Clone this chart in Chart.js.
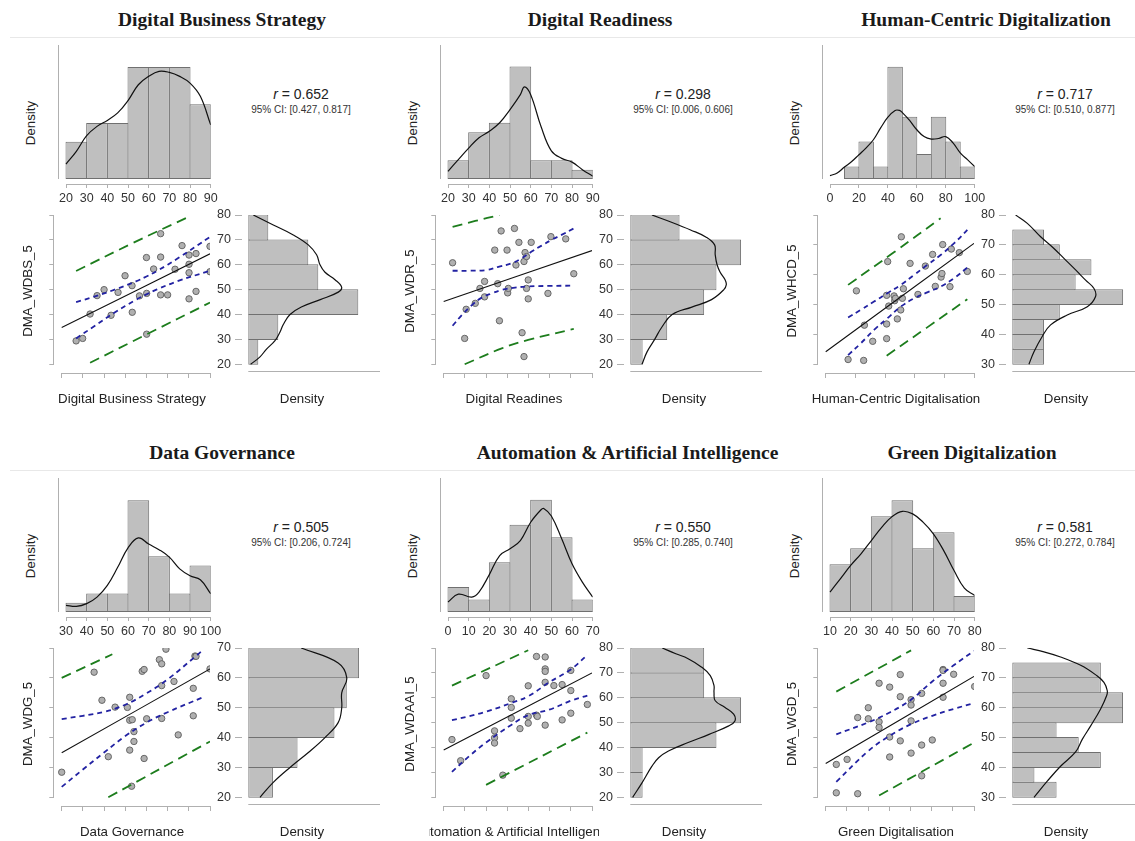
<!DOCTYPE html>
<html>
<head>
<meta charset="utf-8">
<title>Correlation plots</title>
<script src="https://cdn.jsdelivr.net/npm/chart.js@4.4.1/dist/chart.umd.min.js"></script>
<style>
html,body{margin:0;padding:0;background:#fff}
body{position:relative;width:1135px;height:841px;overflow:hidden;font-family:"Liberation Sans",Arial,sans-serif;color:#222}
canvas{position:absolute}
.t{position:absolute;white-space:nowrap;transform:translate(-50%,-50%)}
.title{font-family:"Liberation Serif","Times New Roman",serif;font-weight:bold;font-size:19.5px;color:#1a1a1a}
.lab{font-size:13.3px;color:#222}
.rot{transform:translate(-50%,-50%) rotate(-90deg)}
.r{font-size:14px;color:#222}
.ci{font-size:10px;color:#333}
.sep{position:absolute;height:1px;background:#e8e8e8}
.clip{position:absolute;overflow:hidden;height:20px}
.clip span{position:absolute;left:50%;top:50%;transform:translate(-50%,-50%);white-space:nowrap;font-size:13.3px;color:#222}
</style>
</head>
<body>
<script>
// panel grid origins
const colX = [0, 382, 764]
const rowY = [0, 433]

// ---------- Digital Business Strategy
const dbsTicksX = [20, 30, 40, 50, 60, 70, 80, 90]
const dbsTicksY = [20, 30, 40, 50, 60, 70, 80]
const dbsBinsX = [20, 30, 40, 50, 60, 70, 80, 90]
const dbsCountsX = [2, 3, 3, 6, 6, 6, 4]
const dbsDensX = [[20,0.8],[25,1.48],[30,2.32],[35,2.82],[40,3.14],[45,3.54],[50,4.2],[55,5.05],[60,5.5],[65,5.77],[70,5.71],[75,5.5],[80,5.14],[85,4.43],[90,2.9]]
const dbsPtsX = [26.8,29.9,33.4,36.7,40.0,43.3,46.6,49.9,53.2,53.3,56.7,60.0,60.1,60.1,63.4,66.7,66.7,66.7,70.0,73.5,76.8,80.1,80.1,80.1,80.1,83.4,83.4,90.0,90.0]
const dbsPtsY = [29.4,30.4,40.2,47.6,50.0,39.7,48.9,55.6,51.6,40.9,47.5,62.9,48.5,32.1,58.3,72.5,63.1,47.9,47.9,58.2,67.7,63.9,60.2,56.8,46.3,64.5,49.3,67.4,57.2]
const dbsFit = [[20,34.8],[90,64.4]]
const dbsCiUp = [[26.8,45.0],[35,47.1],[45,50.0],[55,53.3],[60,55.3],[65,57.5],[75,62.7],[90,71.2]]
const dbsCiLo = [[26.8,30.4],[35,35.1],[45,40.8],[55,45.9],[60,48.1],[65,50.1],[75,53.5],[90,57.6]]
const dbsPiUp = [[26.8,57.5],[53,68.5],[80.5,79.5]]
const dbsPiLo = [[33.4,20.6],[60,32.0],[90,44.8]]
const dbsBinsY = [20, 30, 40, 50, 60, 70, 80]
const dbsCountsY = [1, 3, 11, 7, 6, 2]
const dbsDensY = [[20,0.23],[23,1.17],[26,1.8],[29.5,2.67],[33,3.17],[36,3.5],[40,4.17],[43,5.3],[46,7.2],[49,9.0],[51,9.33],[54,8.67],[57,7.67],[60,7.17],[64,6.83],[68,6.0],[72,4.5],[76,2.5],[80,0.5]]

// ---------- Digital Readiness
const drTicksX = [20, 30, 40, 50, 60, 70, 80, 90]
const drTicksY = [20, 30, 40, 50, 60, 70, 80]
const drBinsX = [20, 30, 40, 50, 60, 70, 80, 90]
const drCountsX = [2, 5, 6, 12, 2, 2, 1]
const drDensX = [[20,0.82],[25,2.07],[30,3.3],[35,4.4],[40,5.1],[45,6.0],[50,7.4],[55,9.0],[57,9.84],[60,9.0],[65,5.6],[70,3.0],[75,2.2],[80,1.8],[85,1.0],[90,0.3]]
const drPtsX = [24.2,29.9,30.6,34.9,37.1,39.3,39.3,44.1,45.5,46.3,47.1,49.9,50.2,50.5,53.4,54.1,55.5,57.0,57.9,57.9,58.4,59.1,59.1,59.9,59.9,61.3,69.2,70.6,77.6,81.4]
const drPtsY = [60.8,30.4,42.1,44.5,50.5,47.1,53.3,65.9,52.4,37.5,73.6,65.9,48.7,50.5,74.6,59.9,69.0,32.7,61.3,23.1,64.9,63.3,50.5,53.9,46.3,69.0,48.5,71.3,70.4,56.4]
const drFit = [[20,45.2],[90,65.7]]
const drCiUp = [[24.2,57.6],[32,57.6],[40.4,57.9],[45.8,59.2],[52.1,60.6],[56.8,62.6],[61.5,65.3],[66.2,67.7],[70.9,70.0],[75.6,72.0],[81.4,74.6]]
const drCiLo = [[24.2,35.5],[28.6,39.8],[33.3,43.8],[38.0,46.8],[42.7,48.5],[47.4,49.9],[53.7,50.8],[59.9,51.3],[69.3,51.5],[81.4,51.6]]
const drPiUp = [[24.2,75.2],[34.9,77.6],[46.3,80.0]]
const drPiLo = [[29.9,20.0],[47.4,26.4],[59.9,29.8],[81.4,34.2]]
const drBinsY = [20, 30, 40, 50, 60, 70, 80]
const drCountsY = [1, 3, 6, 7, 9, 4]
const drDensY = [[20,0.95],[25,1.36],[30,1.98],[35,2.57],[40,3.4],[43,5.0],[46,6.6],[50,7.6],[52,7.8],[54,7.7],[57,7.3],[60,7.05],[64,6.9],[68,6.85],[71,6.2],[74,4.9],[77,3.4],[80,1.76]]

// ---------- Human-Centric Digitalization
const hcdTicksX = [0, 20, 40, 60, 80, 100]
const hcdTicksY = [30, 40, 50, 60, 70, 80]
const hcdBinsX = [0, 10, 20, 30, 40, 50, 60, 70, 80, 90, 100]
const hcdCountsX = [0, 1, 3, 1, 9, 5, 2, 5, 3, 1]
const hcdDensX = [[0,0.27],[5,0.48],[10,0.96],[15,1.4],[20,1.95],[25,2.5],[30,3.15],[35,4.1],[40,4.96],[45,5.5],[48,5.5],[50,5.33],[55,4.7],[60,3.95],[65,3.4],[70,3.2],[75,3.25],[80,3.4],[85,2.9],[90,2.1],[95,1.55],[100,1.0]]
const hcdPtsX = [15.1,20.7,25.6,26.1,31.7,41.1,41.1,41.1,41.8,42.5,46.1,46.5,47.0,48.3,50.6,51.0,51.7,52.4,56.9,62.2,67.2,72.1,73.9,77.8,78.4,78.9,83.8,84.7,90.1,95.5]
const hcdPtsY = [31.6,54.6,31.3,43.1,37.7,53.1,43.5,38.6,64.4,49.5,52.9,51.3,52.1,45.2,48.2,72.7,52.1,55.3,63.8,53.4,62.9,66.8,56.1,59.2,60.4,70.1,56.0,68.6,67.4,61.1]
const hcdFit = [[0,34.2],[100,70.5]]
const hcdCiUp = [[15.1,45.7],[23.6,48.2],[32.6,51.0],[41.6,53.8],[50.6,56.6],[59.6,59.9],[68.5,63.3],[77.5,66.6],[86.5,70.5],[95.5,75.0]]
const hcdCiLo = [[15.1,33.1],[23.6,37.0],[32.6,41.5],[41.6,45.4],[50.6,49.3],[59.6,52.1],[68.5,54.1],[77.5,56.0],[86.5,58.8],[95.5,62.4]]
const hcdPiUp = [[15.1,56.6],[46,67.5],[77.5,78.9]]
const hcdPiLo = [[41.1,32.9],[68,42.2],[95.5,51.8]]
const hcdBinsY = [30, 35, 40, 45, 50, 55, 60, 65, 70, 75, 80]
const hcdCountsY = [2, 2, 2, 3, 7, 4, 5, 3, 2, 0]
const hcdDensY = [[30,1.05],[34.2,1.37],[39.3,1.89],[43.2,2.42],[46.5,3.47],[49.3,4.74],[52.7,5.26],[55.4,5.16],[58.2,4.63],[61.6,4.0],[64.9,3.37],[68.8,2.63],[72.7,1.79],[77.2,0.95],[80,0.21]]

// ---------- Data Governance
const dgTicksX = [30, 40, 50, 60, 70, 80, 90, 100]
const dgTicksY = [20, 30, 40, 50, 60, 70]
const dgBinsX = [30, 40, 50, 60, 70, 80, 90, 100]
const dgCountsX = [1, 2, 2, 12, 6, 2, 5]
const dgDensX = [[30,0.71],[35,0.6],[40,0.9],[45,1.6],[50,2.86],[55,4.8],[60,6.9],[65,7.96],[70,7.3],[75,6.7],[80,5.9],[85,4.64],[90,3.9],[95,3.46],[100,1.96]]
const dgPtsX = [30.0,45.3,49.0,52.0,55.2,61.0,62.1,62.1,62.1,63.0,63.3,64.1,64.1,68.0,68.9,68.9,70.1,76.1,77.2,77.2,77.2,79.2,83.0,85.0,92.1,92.1,92.9,93.4,100]
const dgPtsY = [28.4,61.9,52.5,33.6,50.2,50.1,53.5,45.8,35.8,23.7,46.0,42.0,38.7,62.2,62.8,33.0,46.3,66.1,64.7,57.4,46.4,69.6,58.8,40.9,56.5,47.3,67.3,67.2,63.0]
const dgFit = [[30,34.9],[100,63.0]]
const dgCiUp = [[30,46.2],[40,47.3],[50,48.6],[60,51.0],[70,54.8],[80,59.5],[93.7,67.5],[97,69.5]]
const dgCiLo = [[30,23.5],[40,29.3],[50,35.0],[60,40.5],[70,45.0],[80,48.5],[97,53.6]]
const dgPiUp = [[30,60.0],[53.9,67.9]]
const dgPiLo = [[52.0,20.0],[100,38.7]]
const dgBinsY = [20, 30, 40, 50, 60, 70]
const dgCountsY = [2, 4, 7, 8, 9]
const dgDensY = [[20,0.95],[25,2.03],[30,3.39],[35,4.88],[40,6.23],[45,7.3],[50,7.59],[55,7.59],[60,8.0],[65,7.3],[70,4.3]]

// ---------- Automation & Artificial Intelligence
const aaiTicksX = [0, 10, 20, 30, 40, 50, 60, 70]
const aaiTicksY = [20, 30, 40, 50, 60, 70, 80]
const aaiBinsX = [0, 10, 20, 30, 40, 50, 60, 70]
const aaiCountsX = [2, 1, 4, 7, 9, 6, 1]
const aaiDensX = [[0,0.8],[5,1.43],[11.5,1.2],[15,1.6],[20,3.0],[25,4.53],[30,5.07],[35,5.73],[40,7.2],[45,8.2],[46.3,8.3],[50,7.7],[55,5.87],[60,3.87],[65,2.4],[70,1.2]]
const aaiPtsX = [3.9,8.0,20.0,24.0,24.0,24.0,27.9,31.9,31.9,31.9,36.0,39.9,39.9,39.9,43.8,43.8,44.2,47.9,47.9,47.9,47.9,47.9,52.0,55.9,55.9,60.0,60.0,60.0,67.8]
const aaiPtsY = [43.2,34.7,68.9,46.7,43.9,41.8,28.9,59.6,56.1,51.8,47.6,64.8,52.5,49.8,76.6,53.0,52.5,76.4,71.6,70.6,66.2,49.0,64.9,65.3,51.1,71.0,62.9,53.8,57.3]
const aaiFit = [[0,39.0],[70,70.0]]
const aaiCiUp = [[3.9,51.0],[12,52.6],[20,54.4],[31.9,57.9],[39.9,60.6],[49.8,66.2],[60,71.4],[67.8,77.2]]
const aaiCiLo = [[3.9,30.2],[12,36.5],[20,42.0],[31.9,49.1],[39.9,53.0],[49.8,55.2],[60,58.8],[67.8,60.9]]
const aaiPiUp = [[3.9,64.9],[39.9,79.1]]
const aaiPiLo = [[20,25.0],[67.8,46.0]]
const aaiBinsY = [20, 30, 40, 50, 60, 70, 80]
const aaiCountsY = [1, 1, 7, 9, 6, 6]
const aaiDensY = [[20,0.19],[25.8,0.95],[32.5,1.76],[35.9,2.3],[38.6,3.1],[42,4.7],[45.3,6.4],[48.7,8.0],[50.7,8.5],[53.4,8.4],[56.1,7.7],[58.8,6.9],[62.2,6.8],[64.9,6.8],[68.9,6.5],[72.3,5.8],[75.7,4.7],[77.7,3.7],[80,2.6]]

// ---------- Green Digitalization
const gdTicksX = [10, 20, 30, 40, 50, 60, 70, 80]
const gdTicksY = [30, 40, 50, 60, 70, 80]
const gdBinsX = [10, 20, 30, 40, 50, 60, 70, 80]
const gdCountsX = [3, 4, 6, 7, 4, 5, 1]
const gdDensX = [[10,1.25],[15,2.08],[20,2.92],[25,3.65],[30,4.48],[35,5.31],[40,5.98],[45,6.31],[50,6.15],[55,5.63],[60,4.9],[65,3.85],[70,2.6],[75,1.5],[80,1.04]]
const gdPtsX = [15.0,15.0,20.1,25.1,25.1,30.1,30.1,35.2,35.2,35.2,40.2,40.2,40.2,45.2,45.2,45.2,50.3,50.3,50.3,50.3,55.3,55.3,55.3,60.3,65.4,65.4,65.4,65.4,70.4,80.3]
const gdPtsY = [41.0,31.5,42.7,56.7,31.2,60.0,56.3,68.2,55.3,53.4,66.9,50.2,43.5,71.1,63.7,48.9,62.7,60.9,55.6,44.8,64.8,47.5,37.2,49.2,72.8,72.5,68.2,63.5,71.2,67.1]
const gdFit = [[10,41.3],[80,70.5]]
const gdCiUp = [[15,51.1],[30.1,55.1],[40.2,58.4],[50.3,62.7],[60.3,68.8],[70.4,74.2],[80,79.0]]
const gdCiLo = [[15,35.2],[30.1,45.5],[40.2,50.6],[50.3,54.5],[60.3,57.3],[70.4,59.6],[80,61.5]]
const gdPiUp = [[15,65.4],[50.3,79.2]]
const gdPiLo = [[35.2,30.6],[80,48.3]]
const gdBinsY = [30, 35, 40, 45, 50, 55, 60, 65, 70, 75, 80]
const gdCountsY = [2, 1, 4, 3, 2, 5, 5, 4, 4, 0]
const gdDensY = [[30,0.98],[35.4,1.58],[40.4,2.18],[45.2,2.86],[49.4,3.16],[53.9,3.54],[59.6,3.99],[64,4.26],[65.7,4.29],[68.5,4.14],[71,3.77],[74.2,3.09],[77,2.18],[78.7,1.43],[80,0.68]]


const panels = [
  {col:0, row:0, title:'Digital Business Strategy', titleX:222, xLab:'Digital Business Strategy', yLab:'DMA_WDBS_5', r:'0.652', ci:'[0.427, 0.817]',
   ticksX:dbsTicksX, ticksY:dbsTicksY, binsX:dbsBinsX, countsX:dbsCountsX, densX:dbsDensX, ptsX:dbsPtsX, ptsY:dbsPtsY, fit:dbsFit,
   ciUp:dbsCiUp, ciLo:dbsCiLo, piUp:dbsPiUp, piLo:dbsPiLo, binsY:dbsBinsY, countsY:dbsCountsY, densY:dbsDensY, topMax:7.18, sideMax:13.17},
  {col:1, row:0, title:'Digital Readiness', titleX:600, xLab:'Digital Readines', yLab:'DMA_WDR_5', r:'0.298', ci:'[0.006, 0.606]',
   ticksX:drTicksX, ticksY:drTicksY, binsX:drBinsX, countsX:drCountsX, densX:drDensX, ptsX:drPtsX, ptsY:drPtsY, fit:drFit,
   ciUp:drCiUp, ciLo:drCiLo, piUp:drPiUp, piLo:drPiLo, binsY:drBinsY, countsY:drCountsY, densY:drDensY, topMax:14.3, sideMax:10.7},
  {col:2, row:0, title:'Human-Centric Digitalization', titleX:986, xLab:'Human-Centric Digitalisation', yLab:'DMA_WHCD_5', r:'0.717', ci:'[0.510, 0.877]',
   ticksX:hcdTicksX, ticksY:hcdTicksY, binsX:hcdBinsX, countsX:hcdCountsX, densX:hcdDensX, ptsX:hcdPtsX, ptsY:hcdPtsY, fit:hcdFit,
   ciUp:hcdCiUp, ciLo:hcdCiLo, piUp:hcdPiUp, piLo:hcdPiLo, binsY:hcdBinsY, countsY:hcdCountsY, densY:hcdDensY, topMax:10.75, sideMax:8.32},
  {col:0, row:1, title:'Data Governance', titleX:222, xLab:'Data Governance', yLab:'DMA_WDG_5', r:'0.505', ci:'[0.206, 0.724]',
   ticksX:dgTicksX, ticksY:dgTicksY, binsX:dgBinsX, countsX:dgCountsX, densX:dgDensX, ptsX:dgPtsX, ptsY:dgPtsY, fit:dgFit,
   ciUp:dgCiUp, ciLo:dgCiLo, piUp:dgPiUp, piLo:dgPiLo, binsY:dgBinsY, countsY:dgCountsY, densY:dgDensY, topMax:14.4, sideMax:10.7},
  {col:1, row:1, title:'Automation &amp; Artificial Intelligence', titleX:627.5, xLab:'Automation &amp; Artificial Intelligence', yLab:'DMA_WDAAI_5', r:'0.550', ci:'[0.285, 0.740]',
   ticksX:aaiTicksX, ticksY:aaiTicksY, binsX:aaiBinsX, countsX:aaiCountsX, densX:aaiDensX, ptsX:aaiPtsX, ptsY:aaiPtsY, fit:aaiFit,
   ciUp:aaiCiUp, ciLo:aaiCiLo, piUp:aaiPiUp, piLo:aaiPiLo, binsY:aaiBinsY, countsY:aaiCountsY, densY:aaiDensY, topMax:10.75, sideMax:10.7},
  {col:2, row:1, title:'Green Digitalization', titleX:972, xLab:'Green Digitalisation', yLab:'DMA_WGD_5', r:'0.581', ci:'[0.272, 0.784]',
   ticksX:gdTicksX, ticksY:gdTicksY, binsX:gdBinsX, countsX:gdCountsX, densX:gdDensX, ptsX:gdPtsX, ptsY:gdPtsY, fit:gdFit,
   ciUp:gdCiUp, ciLo:gdCiLo, piUp:gdPiUp, piLo:gdPiLo, binsY:gdBinsY, countsY:gdCountsY, densY:gdDensY, topMax:8.4, sideMax:5.95}
]

Chart.defaults.font.family = "'Liberation Sans', Arial, sans-serif"
Chart.defaults.color = '#333'

const AXIS = '#b0b0b0'
const BAR = '#bfbfbf'
const BAR_EDGE = '#707070'
const BLUE = '#2222a2'
const GREEN = '#1d7d1d'

// JASP style axis line, only between first and last tick
const axisLines = {
  id: 'axisLines',
  afterDraw(chart, args, opts) {
    const {ctx, chartArea, scales} = chart
    ctx.save()
    ctx.strokeStyle = AXIS
    ctx.lineWidth = 1
    if (opts.x) {
      const y = Math.round(chartArea.bottom) + 0.5
      ctx.beginPath()
      ctx.moveTo(scales.x.getPixelForValue(opts.x[0]), y)
      ctx.lineTo(scales.x.getPixelForValue(opts.x[1]), y)
      ctx.stroke()
    }
    if (opts.y) {
      const x = Math.round(chartArea.left) - 0.5
      ctx.beginPath()
      ctx.moveTo(x, scales.y.getPixelForValue(opts.y[0]))
      ctx.lineTo(x, scales.y.getPixelForValue(opts.y[1]))
      ctx.stroke()
    }
    ctx.restore()
  }
}
Chart.register(axisLines)

function canvasAt(x, y, w, h){
  let c = document.createElement('canvas')
  c.width = w
  c.height = h
  c.style.left = x + 'px'
  c.style.top = y + 'px'
  c.style.width = w + 'px'
  c.style.height = h + 'px'
  document.body.appendChild(c)
  return c
}

function text(cls, html, x, y){
  let d = document.createElement('div')
  d.className = 't ' + cls
  d.innerHTML = html
  d.style.left = x + 'px'
  d.style.top = y + 'px'
  document.body.appendChild(d)
}

function fixSize(px){
  return s => {
    if (s.isHorizontal()) s.height = px
    else s.width = px
    s.paddingLeft = s.paddingRight = s.paddingTop = s.paddingBottom = 0
  }
}

const useTicks = list => s => { s.ticks = list.map(v => ({value: v})) }

const base = {
  responsive: false,
  animation: false,
  devicePixelRatio: 1,
  events: []
}

function fitLine(pairs, color, width, dash){
  return {type:'line', data:pairs.map(d => ({x:d[0], y:d[1]})), borderColor:color, borderWidth:width,
    borderDash:dash, pointRadius:0, tension:0.4, fill:false, order:0}
}

function drawPanel(p){
  const ox = colX[p.col], oy = rowY[p.row]
  const x0 = p.ticksX[0], x1 = p.ticksX[p.ticksX.length - 1]
  const y0 = p.ticksY[0], y1 = p.ticksY[p.ticksY.length - 1]

  // top histogram of x
  let nx = p.countsX.length
  new Chart(canvasAt(ox + 40, oy + 38, 192, 175), {
    type: 'bar',
    data: {datasets: [
      {type:'line', data:p.densX.map(d => ({x:d[0], y:d[1]})), borderColor:'#111', borderWidth:1.2, pointRadius:0, tension:0.4, order:0},
      {data:p.countsX.map((c, i) => ({x:(p.binsX[i] + p.binsX[i+1]) / 2, y:c})), backgroundColor:BAR, borderColor:BAR_EDGE,
       borderWidth:1, borderSkipped:false, categoryPercentage:1, barPercentage:1 + nx / 144.7, order:1}
    ]},
    options: {...base,
      layout: {padding: {top:7, right:21.3, left:0, bottom:0}},
      plugins: {legend:{display:false}, tooltip:{enabled:false}, axisLines:{x:[x0, x1], y:[0, p.topMax]}},
      scales: {
        x: {type:'linear', bounds:'data', offset:false, min:x0 - 6.7 * (x1 - x0) / 144.7, max:x1,
            afterBuildTicks:useTicks(p.ticksX), afterFit:fixSize(29), border:{display:false},
            grid:{offset:false, drawOnChartArea:false, tickLength:4, color:AXIS},
            ticks:{autoSkip:false, maxRotation:0, padding:3, font:{size:12.5}, color:'#333'}},
        y: {type:'linear', bounds:'data', min:-5 * p.topMax / 134, max:p.topMax, afterFit:fixSize(19.3),
            border:{display:false}, grid:{display:false}, ticks:{display:false}}
      }
    }
  })

  // scatter with regression, confidence and prediction bands
  new Chart(canvasAt(ox + 40, oy + 207, 180, 178), {
    type: 'scatter',
    data: {datasets: [
      fitLine(p.fit, '#111', 1.1, []),
      fitLine(p.ciUp, BLUE, 1.8, [5, 4]),
      fitLine(p.ciLo, BLUE, 1.8, [5, 4]),
      fitLine(p.piUp, GREEN, 1.8, [10, 6]),
      fitLine(p.piLo, GREEN, 1.8, [10, 6]),
      {data:p.ptsX.map((x, i) => ({x:x, y:p.ptsY[i]})), pointRadius:3.2, pointBackgroundColor:'#b0b0b0',
       pointBorderColor:'#676767', pointBorderWidth:1, order:1}
    ]},
    options: {...base,
      layout: {padding: {top:8, right:10, left:0, bottom:0}},
      plugins: {legend:{display:false}, tooltip:{enabled:false}, axisLines:{x:[x0, x1], y:[y0, y1]}},
      scales: {
        x: {type:'linear', bounds:'data', min:x0 - 7.4 * (x1 - x0) / 148.3, max:x1,
            afterBuildTicks:useTicks(p.ticksX), afterFit:fixSize(12), border:{display:false},
            grid:{drawOnChartArea:false, tickLength:5, color:AXIS}, ticks:{display:false}},
        y: {type:'linear', bounds:'data', min:y0 - 8.7 * (y1 - y0) / 149.3, max:y1,
            afterBuildTicks:useTicks(p.ticksY), afterFit:fixSize(14.3), border:{display:false},
            grid:{drawOnChartArea:false, tickLength:5, color:AXIS}, ticks:{display:false}}
      }
    }
  })

  // side histogram of y
  let binPx = 149.3 * (p.binsY[1] - p.binsY[0]) / (y1 - y0)
  new Chart(canvasAt(ox + 200, oy + 205, 185, 171), {
    type: 'bar',
    data: {datasets: [
      {type:'line', data:p.densY.map(d => ({x:d[1], y:d[0]})), borderColor:'#111', borderWidth:1.2, pointRadius:0, tension:0.4, order:0},
      {data:p.countsY.map((c, i) => ({y:(p.binsY[i] + p.binsY[i+1]) / 2, x:c})), backgroundColor:BAR, borderColor:BAR_EDGE,
       borderWidth:1, borderSkipped:false, categoryPercentage:1, barPercentage:1 + 1 / binPx, order:1}
    ]},
    options: {...base,
      indexAxis: 'y',
      layout: {padding: {top:10, right:5, left:0, bottom:0}},
      plugins: {legend:{display:false}, tooltip:{enabled:false}, axisLines:{x:[0, p.sideMax]}},
      scales: {
        y: {type:'linear', bounds:'data', offset:false, min:y0 - 6.4 * (y1 - y0) / 149.3, max:y1,
            afterBuildTicks:useTicks(p.ticksY), afterFit:fixSize(41.7), border:{display:false},
            grid:{offset:false, drawOnChartArea:false, tickLength:6.7, color:AXIS},
            ticks:{autoSkip:false, padding:4, font:{size:12.5}, color:'#333'}},
        x: {type:'linear', bounds:'data', min:-6.6 * p.sideMax / 131.7, max:p.sideMax, afterFit:fixSize(5.3),
            border:{display:false}, grid:{display:false}, ticks:{display:false}}
      }
    }
  })

  // texts
  text('title', p.title, p.titleX, oy + 20)
  text('lab rot', 'Density', ox + 30, oy + 122.5)
  text('r', '<i>r</i> = ' + p.r, ox + 301, oy + 94)
  text('ci', '95% CI: ' + p.ci, ox + 301, oy + 109)
  text('lab rot', p.yLab, ox + 27, oy + 291)
  text('lab', 'Density', ox + 302, oy + 398)
  let clip = document.createElement('div')
  clip.className = 'clip'
  clip.style.left = (ox + 47) + 'px'
  clip.style.top = (oy + 388) + 'px'
  clip.style.width = '170px'
  clip.innerHTML = '<span>' + p.xLab + '</span>'
  document.body.appendChild(clip)
}

rowY.forEach(oy => {
  let s = document.createElement('div')
  s.className = 'sep'
  s.style.left = '10px'
  s.style.width = '1125px'
  s.style.top = (oy + 37) + 'px'
  document.body.appendChild(s)
})

panels.forEach(drawPanel)
</script>
</body>
</html>
